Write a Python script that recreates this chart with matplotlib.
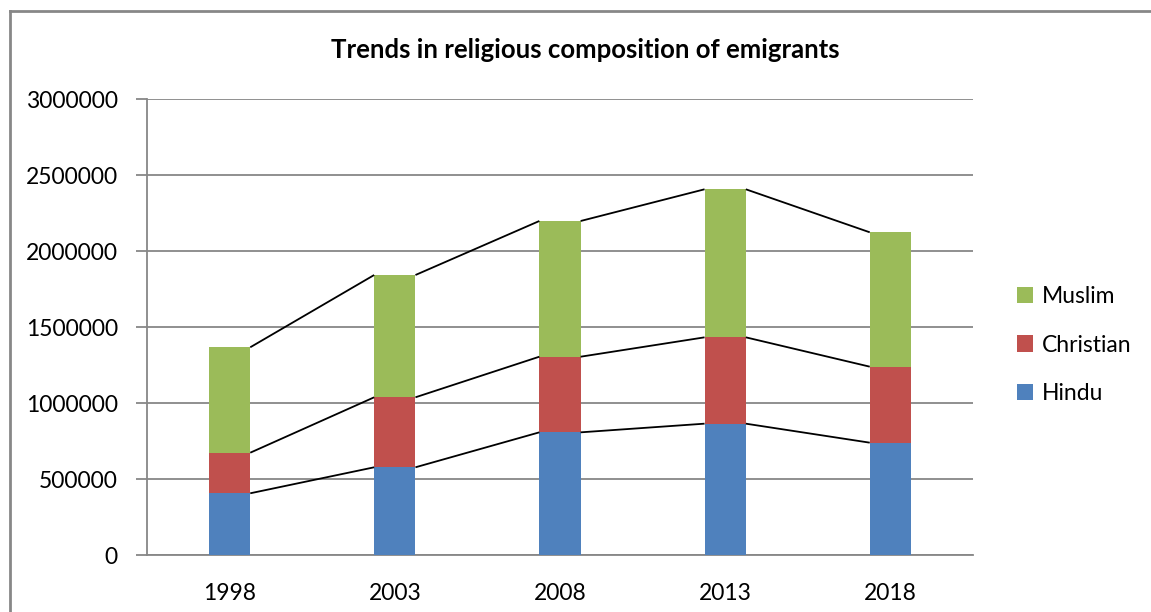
import matplotlib
matplotlib.use("Agg")
import matplotlib.pyplot as plt
from matplotlib.lines import Line2D
import numpy as np

plt.rcParams['font.family'] = ['Lato', 'DejaVu Sans']

years = ["1998", "2003", "2008", "2013", "2018"]
hindu = [406000, 577000, 807000, 864000, 739000]
christian = [267000, 460500, 497600, 568000, 500000]
muslim = [693500, 804500, 892800, 974000, 884000]

colors = {"Hindu": "#4F81BD", "Christian": "#C0504D", "Muslim": "#9BBB59"}
grid_gray = "#878787"

fig = plt.figure(figsize=(11.51, 6.12), dpi=100)
ax = fig.add_axes([147 / 1151, 57 / 612, 826 / 1151, 456 / 612])

x = np.arange(len(years))
width = 0.25
h = np.array(hindu)
c = np.array(christian)
m = np.array(muslim)

b1 = ax.bar(x, h, width, color=colors["Hindu"], label="Hindu", zorder=3)
b2 = ax.bar(x, c, width, bottom=h, color=colors["Christian"], label="Christian", zorder=3)
b3 = ax.bar(x, m, width, bottom=h + c, color=colors["Muslim"], label="Muslim", zorder=3)

# series lines joining the stacked segment tops
for level in (h, h + c, h + c + m):
    for i in range(len(years) - 1):
        ax.plot([x[i] + width / 2, x[i + 1] - width / 2], [level[i], level[i + 1]],
                color="black", lw=1.3, zorder=4, solid_capstyle="butt")

ax.set_xlim(-0.5, len(years) - 0.5)
ax.set_ylim(0, 3000000)
ax.set_yticks(np.arange(0, 3000001, 500000))
ax.set_yticklabels([str(v) for v in range(0, 3000001, 500000)])
ax.set_xticks(x)
ax.set_xticklabels(years)
ax.yaxis.grid(True, color=grid_gray, lw=1.3, zorder=0)
ax.set_axisbelow(True)

for s in ("top", "right"):
    ax.spines[s].set_visible(False)
for s in ("left", "bottom"):
    ax.spines[s].set_color(grid_gray)
    ax.spines[s].set_linewidth(1.3)

ax.tick_params(axis="y", length=8, width=1.3, color=grid_gray, labelsize=16.5, pad=13)
ax.tick_params(axis="x", length=0, labelsize=16.5, pad=20)

fig.text(585 / 1151, 1 - 50 / 612, "Trends in religious composition of emigrants",
         ha="center", va="center", fontsize=18.5, fontweight="bold")

handles = [b3, b2, b1]
fig.legend(handles, ["Muslim", "Christian", "Hindu"], loc="center left",
           bbox_to_anchor=(996 / 1151, 1 - 345 / 612), frameon=False,
           fontsize=16.5, handlelength=0.7, handleheight=0.7, handletextpad=0.4,
           labelspacing=1.2)

# chart border (left and top edges only; the rest runs off the image)
bx, by = 10 / 1151, 1 - 11 / 612
fig.add_artist(Line2D([bx, bx], [0, by], transform=fig.transFigure,
                      color=grid_gray, lw=2))
fig.add_artist(Line2D([bx, 1], [by, by], transform=fig.transFigure,
                      color=grid_gray, lw=2))

fig.savefig("out.png", dpi=100)
